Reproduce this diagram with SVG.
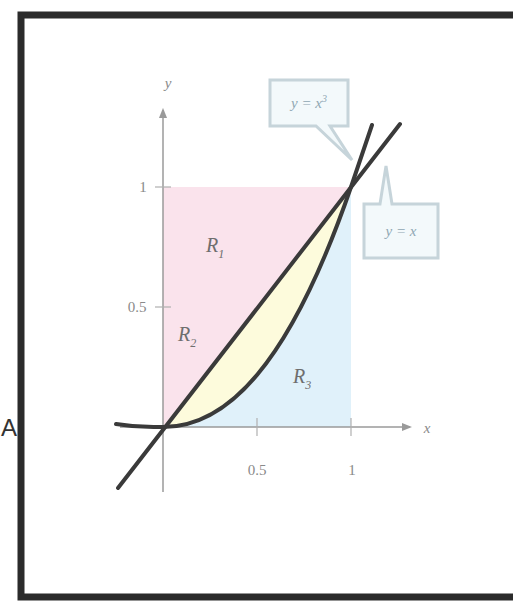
<svg xmlns="http://www.w3.org/2000/svg" width="513" height="603" viewBox="0 0 513 603">
<style>
.ax{stroke:#9a9a9a;stroke-width:1.5;fill:none}
.tk{stroke:#b0b0b0;stroke-width:1.2}
.crv{stroke:#3a3a3a;stroke-width:4;fill:none;stroke-linecap:round}
.lbl{font-family:"Liberation Serif",serif;fill:#8a8a8a;font-size:15px}
.rl{font-family:"Liberation Serif",serif;fill:#6e6e6e;font-size:20px;font-style:italic}
.cb{fill:#f3f9fb;stroke:#c6d4da;stroke-width:3}
.ct{font-family:"Liberation Serif",serif;fill:#8fa7b3;font-size:15px;font-style:italic}
</style>
<defs>
<marker id="ar" viewBox="0 0 10 10" refX="8" refY="5" markerWidth="7" markerHeight="7" orient="auto"><path d="M0,1 L10,5 L0,9 z" fill="#9a9a9a"/></marker>
</defs>
<rect width="513" height="603" fill="#ffffff"/>
<text x="1" y="436" font-family="Liberation Sans,sans-serif" font-size="24" fill="#333">A</text>
<path d="M520,15 L21,15 L21,597 L520,597" fill="none" stroke="#2b2b2b" stroke-width="7"/>
<g id="regions">
<polygon id="R1fill" points="163,187 351,187 163,427" fill="#fae3ec"/>
<path id="R3fill" d="M163,427 C226,427 289,367 351,187 L351,427 Z" fill="#e0f1fa"/>
<path id="R2fill" d="M163,427 L351,187 C289,367 226,427 163,427 Z" fill="#fdfbdc"/>
</g>
<g id="axes">
<line class="ax" x1="120" y1="427" x2="410" y2="427" marker-end="url(#ar)"/>
<line class="ax" x1="163" y1="492" x2="163" y2="110" marker-end="url(#ar)"/>
<line class="tk" x1="155" y1="187" x2="171" y2="187"/>
<line class="tk" x1="155" y1="307" x2="171" y2="307"/>
<line class="tk" x1="257" y1="418" x2="257" y2="436"/>
<line class="tk" x1="351" y1="418" x2="351" y2="436"/>
<text class="lbl" x="168" y="88" text-anchor="middle" font-style="italic">y</text>
<text class="lbl" x="427" y="433" text-anchor="middle" font-style="italic">x</text>
<text class="lbl" x="143" y="192" text-anchor="middle">1</text>
<text class="lbl" x="137" y="312" text-anchor="middle">0.5</text>
<text class="lbl" x="257" y="475" text-anchor="middle">0.5</text>
<text class="lbl" x="352" y="475" text-anchor="middle">1</text>
</g>
<g id="curves">
<line id="yx" class="crv" x1="118" y1="488" x2="400" y2="124"/>
<path id="yx3" class="crv" d="M116,424 C140,428 150,427 163,427 C226,427 289,367 351,187 L372,125"/>
</g>
<g id="labels">
<text class="rl" x="206" y="252">R<tspan font-size="12" dy="6">1</tspan></text>
<text class="rl" x="178" y="341">R<tspan font-size="12" dy="6">2</tspan></text>
<text class="rl" x="293" y="383">R<tspan font-size="12" dy="6">3</tspan></text>
</g>
<g id="callout1">
<path class="cb" d="M270,80 H348 V126 H330 L352,160 L316,126 H270 Z"/>
<text class="ct" x="309" y="108" text-anchor="middle">y = x<tspan font-size="10" dy="-6">3</tspan></text>
</g>
<g id="callout2">
<path class="cb" d="M364,204 H380 L386,166 L392,204 H438 V258 H364 Z"/>
<text class="ct" x="401" y="236" text-anchor="middle">y = x</text>
</g>
</svg>
